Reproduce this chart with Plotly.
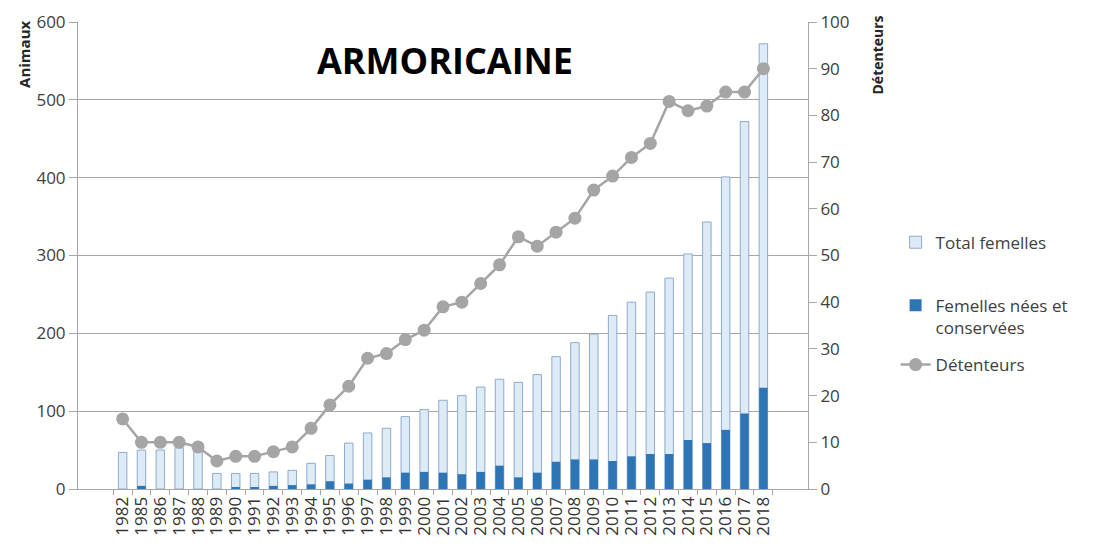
import plotly.graph_objects as go

years = ["1982"] + [str(y) for y in range(1985, 2019)]
total_femelles = [47, 50, 50, 53, 50, 20, 20, 20, 22, 24, 33, 43, 59, 72, 78, 93, 102, 114, 120, 131,
                  141, 137, 147, 170, 188, 199, 223, 240, 253, 271, 302, 343, 401, 472, 572]
femelles_nees = [0, 4, 0, 0, 0, 0, 2, 2, 4, 5, 6, 10, 7, 12, 15, 21, 22, 21, 19, 22,
                 30, 15, 21, 35, 38, 38, 36, 42, 45, 45, 63, 59, 76, 97, 130]
detenteurs = [15, 10, 10, 10, 9, 6, 7, 7, 8, 9, 13, 18, 22, 28, 29, 32, 34, 39, 40, 44,
              48, 54, 52, 55, 58, 64, 67, 71, 74, 83, 81, 82, 85, 85, 90]

FONT = "Open Sans"
fig = go.Figure()
fig.add_trace(go.Bar(x=years, y=total_femelles, name="Total femelles", legendgroup="a",
                     marker=dict(color="#DDEBF7", line=dict(color="#8FAACC", width=1)), width=0.45))
fig.add_trace(go.Bar(x=years, y=femelles_nees, name="Femelles nées et<br>conservées", legendgroup="b",
                     marker=dict(color="#2E75B6", line=dict(width=0)), width=0.45))
fig.add_trace(go.Scatter(x=years, y=detenteurs, name="Détenteurs", yaxis="y2", legend="legend2",
                         mode="lines+markers", line=dict(color="#A5A5A5", width=2.5),
                         marker=dict(color="#A5A5A5", size=13)))

legend_font = dict(size=17, color="#404040")
fig.update_layout(
    width=1112, height=541, barmode="overlay",
    margin=dict(l=70, r=312, t=14, b=60, autoexpand=False),
    paper_bgcolor="white", plot_bgcolor="white",
    font=dict(family=FONT, color="#404040"),
    xaxis=dict(type="category", tickangle=-90, tickfont=dict(size=17, color="#333333"),
               tickmode="array", tickvals=years, ticktext=years,
               showline=True, linecolor="#A6A6A6", ticks="outside", ticklen=5, tickcolor="#A6A6A6",
               tickson="boundaries", showgrid=False, automargin=False),
    yaxis=dict(range=[0, 600], dtick=100, tickfont=dict(size=17, color="#404040"),
               showgrid=True, gridcolor="#A6A6A6", gridwidth=1, showline=True, linecolor="#A6A6A6",
               ticks="outside", ticklen=8, tickcolor="#A6A6A6", zeroline=False, automargin=False),
    yaxis2=dict(range=[0, 100], dtick=10, overlaying="y", side="right",
                tickfont=dict(size=17, color="#404040"), showgrid=False, showline=True,
                linecolor="#A6A6A6", ticks="outside", ticklen=8, tickcolor="#A6A6A6", zeroline=False,
                automargin=False),
    legend=dict(x=1.12, y=0.566, xanchor="left", yanchor="top", font=legend_font,
                tracegroupgap=38, bgcolor="rgba(0,0,0,0)", itemwidth=30, valign="top"),
    legend2=dict(x=1.12, y=0.304, xanchor="left", yanchor="top", font=legend_font,
                 bgcolor="rgba(0,0,0,0)", itemwidth=30),
    showlegend=True,
)
fig.add_annotation(text="<b>ARMORICAINE</b>", xref="paper", yref="paper", x=0.503, y=0.918,
                   xanchor="center", yanchor="middle",
                   showarrow=False, font=dict(size=36, color="black", family=FONT))
fig.add_annotation(text="<b>Animaux</b>", xref="paper", yref="paper", x=-0.075, y=0.93,
                   xanchor="center", yanchor="middle",
                   textangle=-90, showarrow=False, font=dict(size=15, color="#262626", family=FONT))
fig.add_annotation(text="<b>Détenteurs</b>", xref="paper", yref="paper", x=1.095, y=0.929,
                   xanchor="center", yanchor="middle",
                   textangle=-90, showarrow=False, font=dict(size=14, color="#262626", family=FONT))

fig.write_html("out.html")
